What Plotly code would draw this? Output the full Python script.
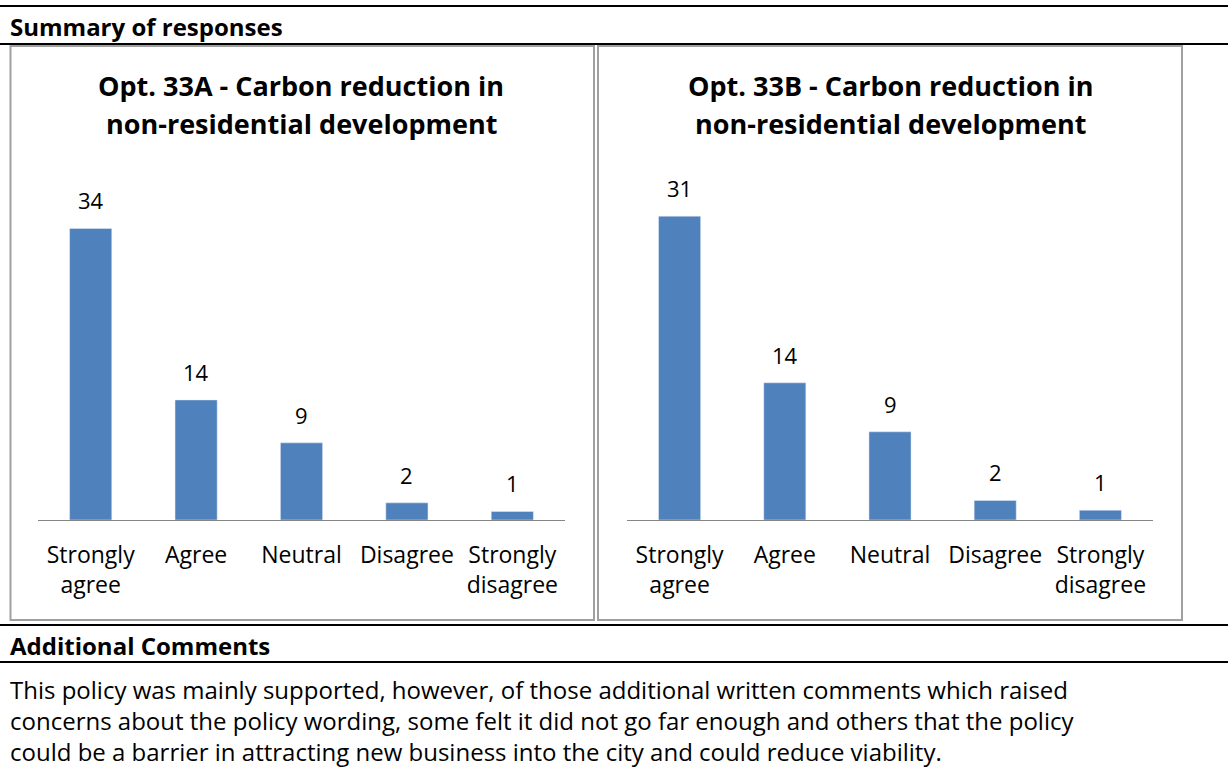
import plotly.graph_objects as go

W, H = 1228, 767

categories = ["Strongly<br>agree", "Agree", "Neutral", "Disagree", "Strongly<br>disagree"]
values_33a = [34, 14, 9, 2, 1]
values_33b = [31, 14, 9, 2, 1]
title_33a = ["Opt. 33A - Carbon reduction in", "non-residential development"]
title_33b = ["Opt. 33B - Carbon reduction in", "non-residential development"]
heading_1 = "Summary of responses"
heading_2 = "Additional Comments"
comment_lines = [
    "This policy was mainly supported, however, of those additional written comments which raised",
    "concerns about the policy wording, some felt it did not go far enough and others that the policy",
    "could be a barrier in attracting new business into the city and could reduce viability.",
]

FONT = "Open Sans"
BAR = "#4F81BD"
AXIS = "#868686"
BOX = "#A0A0A0"


def px(x):
    return x / W


def py(y):
    return 1 - y / H


fig = go.Figure()
fig.add_trace(go.Bar(x=categories, y=values_33a, marker_color=BAR, xaxis="x", yaxis="y",
                     hoverinfo="skip"))
fig.add_trace(go.Bar(x=categories, y=values_33b, marker_color=BAR, xaxis="x2", yaxis="y2",
                     hoverinfo="skip"))

annotations = []
for xa, ya, vals in (("x", "y", values_33a), ("x2", "y2", values_33b)):
    for c, v in zip(categories, vals):
        annotations.append(dict(x=c, y=v, xref=xa, yref=ya, text=str(v), showarrow=False,
                                yanchor="bottom", yshift=11,
                                font=dict(family=FONT, size=22, color="#000")))

for title, cx in ((title_33a, 301), (title_33b, 890)):
    for line, cy in zip(title, (86, 124)):
        annotations.append(dict(x=px(cx), y=py(cy), xref="paper", yref="paper", text="<b>" + line + "</b>",
                                showarrow=False, xanchor="center", yanchor="middle",
                                font=dict(family=FONT, size=27, color="#000")))

annotations.append(dict(x=px(8), y=py(27), xref="paper", yref="paper", text="<b>" + heading_1 + "</b>",
                        showarrow=False, xanchor="left", yanchor="middle",
                        font=dict(family=FONT, size=24, color="#000")))
annotations.append(dict(x=px(8), y=py(645), xref="paper", yref="paper", text="<b>" + heading_2 + "</b>",
                        showarrow=False, xanchor="left", yanchor="middle",
                        font=dict(family=FONT, size=24, color="#000")))
annotations.append(dict(x=px(8), y=py(720), xref="paper", yref="paper", text="<br>".join(comment_lines),
                        showarrow=False, xanchor="left", yanchor="middle", align="left",
                        font=dict(family=FONT, size=24, color="#000")))

shapes = [
    dict(type="line", xref="paper", yref="paper", x0=0, x1=1, y0=py(6), y1=py(6),
         line=dict(color="#000", width=2)),
    dict(type="line", xref="paper", yref="paper", x0=0, x1=1, y0=py(44), y1=py(44),
         line=dict(color="#000", width=2)),
    dict(type="rect", xref="paper", yref="paper", x0=px(10.5), x1=px(594), y0=py(620), y1=py(46),
         line=dict(color=BOX, width=2)),
    dict(type="rect", xref="paper", yref="paper", x0=px(598), x1=px(1182), y0=py(620), y1=py(46),
         line=dict(color=BOX, width=2)),
    dict(type="line", xref="paper", yref="paper", x0=0, x1=1, y0=py(625), y1=py(625),
         line=dict(color="#000", width=2)),
    dict(type="line", xref="paper", yref="paper", x0=0, x1=1, y0=py(662), y1=py(662),
         line=dict(color="#000", width=2)),
]

xaxis_common = dict(showgrid=False, zeroline=False, showline=True, linecolor=AXIS, linewidth=1,
                    ticks="", tickfont=dict(family=FONT, size=23, color="#000"),
                    ticklabelstandoff=14, fixedrange=True)
yaxis_common = dict(visible=False, showgrid=False, zeroline=False, fixedrange=True,
                    domain=[py(520), py(177)])

fig.update_layout(
    width=W, height=H,
    margin=dict(l=0, r=0, t=0, b=0),
    paper_bgcolor="white", plot_bgcolor="white",
    showlegend=False,
    bargap=0.6,
    xaxis=dict(**xaxis_common, anchor="y", domain=[px(38), px(565)], range=[-0.5, 4.5]),
    yaxis=dict(**yaxis_common, anchor="x", range=[0, 40]),
    xaxis2=dict(**xaxis_common, anchor="y2", domain=[px(627), px(1153)], range=[-0.5, 4.5]),
    yaxis2=dict(**yaxis_common, anchor="x2", range=[0, 35]),
    annotations=annotations,
    shapes=shapes,
)

fig.write_html("out.html", config={"displayModeBar": False},
               post_script="document.body.style.margin='0px';document.body.style.overflow='hidden';")
